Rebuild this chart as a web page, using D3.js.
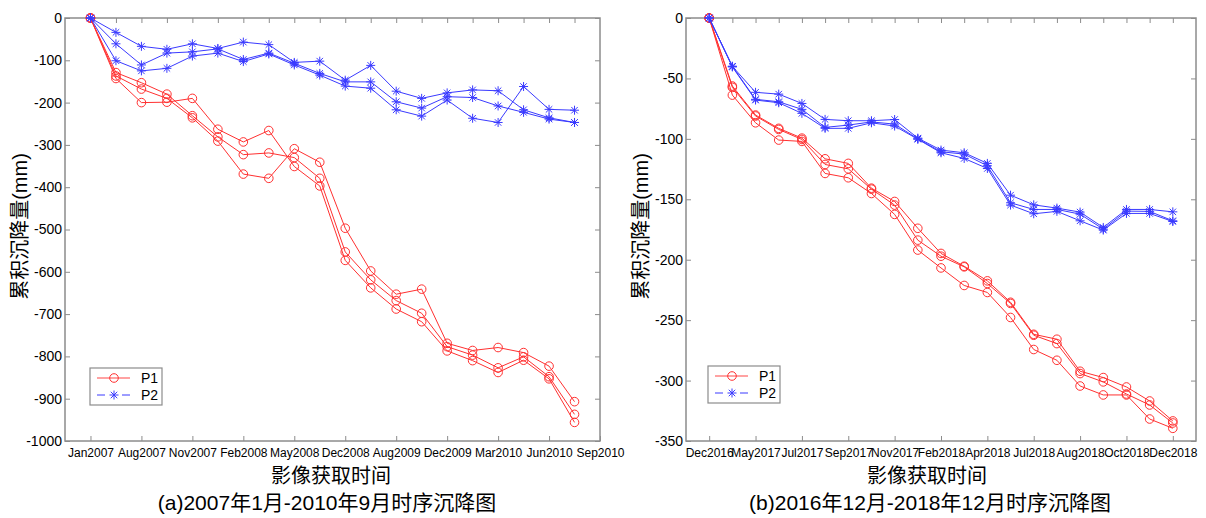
<!DOCTYPE html>
<html>
<head>
<meta charset="utf-8">
<script src="https://cdn.jsdelivr.net/npm/d3@7"></script>
<style>
  body { margin: 0; background: #fff; }
  svg { font-family: Arial, "Liberation Sans", "Noto Sans CJK SC", sans-serif; }
</style>
</head>
<body>
<div id="chart"></div>
<script>
// tick labels (one every second acquisition)
var labelsA = ["Jan2007", "Aug2007", "Nov2007", "Feb2008", "May2008", "Dec2008", "Aug2009", "Dec2009", "Mar2010", "Jun2010", "Sep2010"];
var labelsB = ["Dec2016", "May2017", "Jul2017", "Sep2017", "Nov2017", "Feb2018", "Apr2018", "Jul2018", "Aug2018", "Oct2018", "Dec2018"];

// (a) 2007-2010, cumulative subsidence (mm), three points each for P1 and P2
var p1a = [
  [0, -129, -153, -180, -231, -281, -323, -319, -330, -379, -553, -619, -668, -698, -777, -797, -827, -801, -848, -937],
  [0, -137, -168, -190, -236, -291, -369, -379, -309, -341, -497, -598, -653, -641, -769, -786, -779, -791, -823, -907],
  [0, -143, -200, -199, -190, -263, -293, -266, -351, -397, -573, -638, -688, -718, -787, -810, -838, -809, -853, -956]
];
var p2a = [
  [0, -34, -67, -74, -61, -72, -57, -63, -105, -102, -147, -112, -173, -190, -177, -170, -172, -217, -236, -247],
  [0, -61, -111, -83, -80, -73, -98, -83, -107, -131, -151, -151, -198, -213, -186, -188, -208, -223, -239, -247],
  [0, -101, -125, -119, -90, -83, -103, -85, -111, -135, -161, -166, -217, -232, -194, -237, -247, -162, -216, -218]
];

// (b) 2016-2018
var p1b = [
  [0, -56.3, -80.3, -91.3, -99.4, -116.5, -120.3, -140.8, -151.8, -174, -194.8, -205.4, -217.5, -235.2, -261.7, -265.8, -292.3, -297.5, -305.3, -316.9, -333.4],
  [0, -57.4, -81.1, -92.2, -100.5, -121.2, -124.8, -141.6, -154.8, -183.8, -197.1, -205.9, -219.7, -236.2, -262.5, -269.4, -294.2, -301.1, -311.1, -320.2, -335.1],
  [0, -63.8, -86.7, -101, -102.1, -128.6, -132.2, -145.2, -162.5, -192, -206.8, -221.3, -227.1, -247.8, -274.3, -283.2, -304.5, -311.9, -311.9, -331.8, -339.5]
];
var p2b = [
  [0, -40, -61.5, -63, -70.7, -83.9, -85, -85, -84, -99.4, -109.3, -111.5, -120.3, -146.6, -154.6, -157.3, -160.6, -173.3, -158.4, -158.4, -160.4],
  [0, -40, -67.3, -69.3, -75.6, -90.5, -88.6, -86, -87.8, -100, -110.7, -112.6, -122.3, -152.9, -158.4, -158.4, -162.3, -174.7, -159.8, -160, -167.8],
  [0, -40.5, -67.9, -70.1, -78.9, -91.3, -91.3, -86.7, -89.4, -100.3, -111.5, -116.2, -124.5, -154.8, -162, -160, -167.8, -175.5, -161.7, -161.7, -168.4]
];

var redColor = "#ff3030", blueColor = "#3a3aff", axisColor = "#8c8c8c";

var svg = d3.select("#chart").append("svg")
    .attr("width", 1206)
    .attr("height", 518);

// asterisk marker like matlab '*'
function star(r) {
  var d = r * 0.72;
  return "M" + (-r) + ",0L" + r + ",0M0," + (-r) + "L0," + r +
         "M" + (-d) + "," + (-d) + "L" + d + "," + d + "M" + (-d) + "," + d + "L" + d + "," + (-d);
}

function drawPanel(cfg) {
  var x = d3.scaleLinear().domain(cfg.xDomain).range([cfg.left, cfg.right]);
  var y = d3.scaleLinear().domain(cfg.yDomain).range([cfg.bottom, cfg.top]);
  var g = svg.append("g");

  var idx = d3.range(cfg.n);
  var even = idx.filter(function(i) { return i % 2 === 0; }).concat(cfg.n % 2 === 0 ? [cfg.n] : []);

  //axes, ticks pointing inward
  var ax = g.append("g").attr("class", "axes")
      .attr("font-family", "Arial, 'Liberation Sans', sans-serif");
  ax.append("g")
      .attr("transform", "translate(0," + cfg.bottom + ")")
      .call(d3.axisBottom(x).tickValues(even).tickSize(-5).tickPadding(7)
        .tickFormat(function(d) { return cfg.labels[d / 2]; }))
      .attr("font-size", 12);
  ax.append("g")
      .attr("transform", "translate(0," + cfg.top + ")")
      .call(d3.axisTop(x).tickValues(idx).tickSize(-5).tickFormat(""));
  ax.append("g")
      .attr("transform", "translate(" + cfg.left + ",0)")
      .call(d3.axisLeft(y).tickValues(cfg.yTicks).tickSize(-5).tickPadding(3)
        .tickFormat(function(d) { return String(d); }))
      .attr("font-size", 14);
  ax.append("g")
      .attr("transform", "translate(" + cfg.right + ",0)")
      .call(d3.axisRight(y).tickValues(cfg.yTicks).tickSize(-5).tickFormat(""));
  ax.selectAll(".domain").remove();
  ax.selectAll(".tick line").attr("stroke", axisColor);
  ax.selectAll(".tick text").attr("fill", "#000");

  g.append("rect")
      .attr("x", cfg.left).attr("y", cfg.top)
      .attr("width", cfg.right - cfg.left).attr("height", cfg.bottom - cfg.top)
      .attr("fill", "none").attr("stroke", axisColor).attr("stroke-width", 1.5);

  var line = d3.line().x(function(d, i) { return x(i); }).y(function(d) { return y(d); });

  cfg.red.forEach(function(s) {
    g.append("path").datum(s).attr("d", line)
        .attr("fill", "none").attr("stroke", redColor).attr("stroke-width", 1);
    g.selectAll(null).data(s).enter().append("circle")
        .attr("cx", function(d, i) { return x(i); })
        .attr("cy", function(d) { return y(d); })
        .attr("r", 4.3)
        .attr("fill", "none").attr("stroke", redColor).attr("stroke-width", 1);
  });
  cfg.blue.forEach(function(s) {
    g.append("path").datum(s).attr("d", line)
        .attr("fill", "none").attr("stroke", blueColor).attr("stroke-width", 1);
    g.selectAll(null).data(s).enter().append("path")
        .attr("transform", function(d, i) { return "translate(" + x(i) + "," + y(d) + ")"; })
        .attr("d", star(4.5))
        .attr("fill", "none").attr("stroke", blueColor).attr("stroke-width", 1);
  });

  // legend
  var lg = g.append("g").attr("transform", "translate(" + cfg.legend[0] + "," + cfg.legend[1] + ")");
  lg.append("rect").attr("width", 72).attr("height", 37)
      .attr("fill", "#fff").attr("stroke", axisColor).attr("stroke-width", 1.2);
  lg.append("line").attr("x1", 7).attr("x2", 40).attr("y1", 10).attr("y2", 10)
      .attr("stroke", redColor).attr("stroke-opacity", 0.6).attr("stroke-width", 1.5);
  lg.append("circle").attr("cx", 24).attr("cy", 10).attr("r", 4.3)
      .attr("fill", "none").attr("stroke", redColor);
  lg.append("line").attr("x1", 7).attr("x2", 40).attr("y1", 27).attr("y2", 27)
      .attr("stroke", blueColor).attr("stroke-dasharray", "8,17");
  lg.append("path").attr("transform", "translate(24,27)").attr("d", star(4.5))
      .attr("fill", "none").attr("stroke", blueColor);
  lg.append("text").attr("x", 51).attr("y", 15).attr("font-size", 14).text("P1");
  lg.append("text").attr("x", 51).attr("y", 32).attr("font-size", 14).text("P2");

  // titles
  g.append("text")
      .attr("transform", "translate(" + cfg.yTitleX + "," + ((cfg.top + cfg.bottom) / 2 - 3) + ") rotate(-90)")
      .attr("text-anchor", "middle").attr("dominant-baseline", "central")
      .attr("font-size", 20).text("累积沉降量(mm)");
  g.append("text")
      .attr("x", cfg.xTitleX).attr("y", 483)
      .attr("text-anchor", "middle").attr("font-size", 20).text("影像获取时间");
  g.append("text")
      .attr("x", cfg.capX).attr("y", 510)
      .attr("text-anchor", "middle").attr("font-size", 21).text(cfg.caption);
}

drawPanel({
  left: 65, right: 600, top: 18, bottom: 441,
  xDomain: [-1, 20], yDomain: [-1000, 0], n: 20,
  yTicks: d3.range(-1000, 1, 100), labels: labelsA,
  red: p1a, blue: p2a, legend: [90, 368],
  yTitleX: 20, xTitleX: 331, capX: 327,
  caption: "(a)2007年1月-2010年9月时序沉降图"
});
drawPanel({
  left: 686, right: 1196, top: 18, bottom: 441,
  xDomain: [-1, 21], yDomain: [-350, 0], n: 21,
  yTicks: d3.range(-350, 1, 50), labels: labelsB,
  red: p1b, blue: p2b, legend: [708, 366],
  yTitleX: 641, xTitleX: 927, capX: 930,
  caption: "(b)2016年12月-2018年12月时序沉降图"
});
</script>
</body>
</html>
